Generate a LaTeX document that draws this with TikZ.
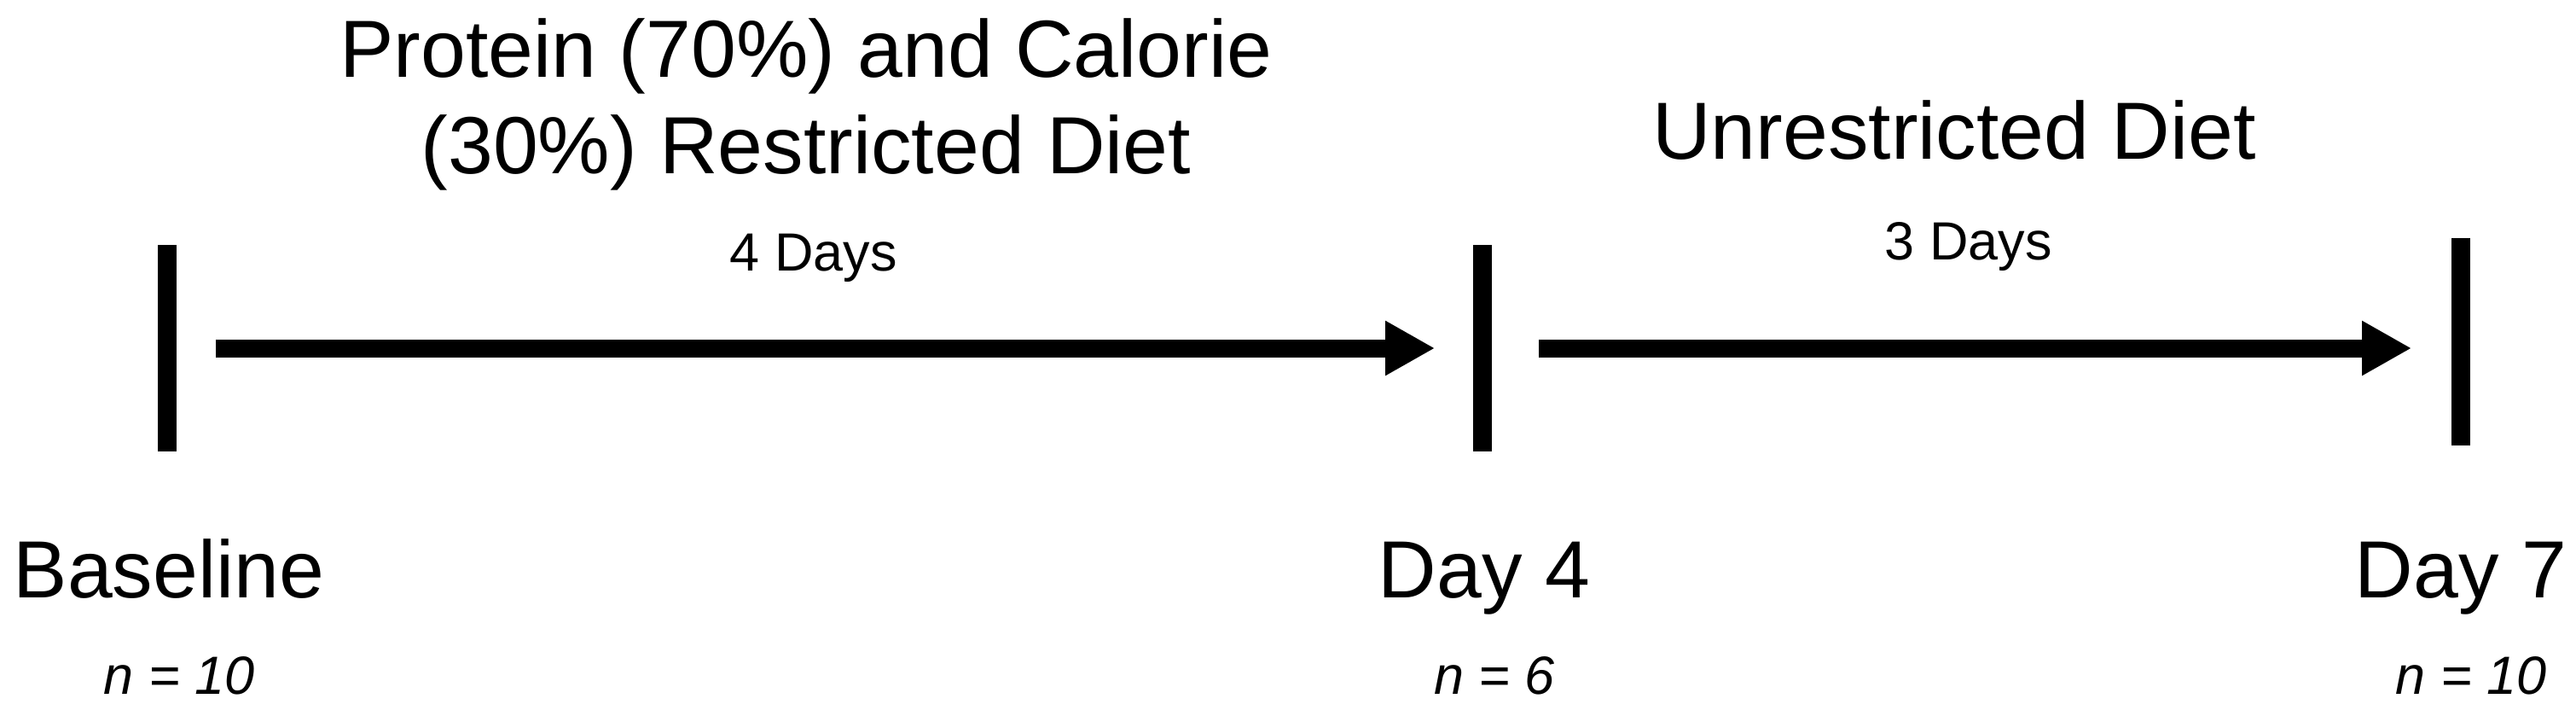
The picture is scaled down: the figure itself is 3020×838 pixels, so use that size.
\documentclass[tikz,border=0pt]{standalone}
\usepackage{fontspec}
\setmainfont{Liberation Sans}
\usetikzlibrary{arrows.meta}
\tikzset{
  bar/.style={fill=black, draw=none, inner sep=0pt, minimum width=5.5pt},
  bigtext/.style={anchor=base, inner sep=0pt, font=\fontsize{23.75}{28.25}\selectfont, align=center},
  smalltext/.style={anchor=base, inner sep=0pt, font=\fontsize{15.75}{19}\selectfont},
  ntext/.style={anchor=base, inner sep=0pt, font=\fontsize{15.75}{19}\selectfont\itshape},
  timearrow/.style={line width=5.25pt, -{Triangle[length=14.5pt,width=15pt]}}
}
\begin{document}
\begin{tikzpicture}[x=0.25pt,y=-0.25pt]
\useasboundingbox (0,0) rectangle (3020,838);
% bars
\node[bar, minimum height=60.5pt] (b0) at (196,408) {};
\node[bar, minimum height=60.5pt] (b1) at (1738,408) {};
\node[bar, minimum height=60.75pt] (b2) at (2885,400.5) {};
% arrows
\draw[timearrow, shorten <=11.25pt, shorten >=11pt] (b0.east) -- (b1.west);
\draw[timearrow, shorten <=13.5pt, shorten >=11.5pt] (b1.east) -- (b1.east -| b2.west);
% titles
\node[bigtext] (t1a) at (945,90) {Protein (70\%) and Calorie};
\node[bigtext] (t1b) at (945,203) {(30\%) Restricted Diet};
\node[bigtext] (t2) at (2291,186) {Unrestricted Diet};
\node[smalltext] (d1) at (954,317) {4 Days};
\node[smalltext] (d2) at (2308,304) {3 Days};
% time point labels
\node[bigtext] (l0) at (198,700) {Baseline};
\node[bigtext] (l1) at (1740,700) {Day 4};
\node[bigtext] (l2) at (2885,700) {Day 7};
\node[ntext] (n0) at (210,813) {n = 10};
\node[ntext] (n1) at (1752,813) {n = 6};
\node[ntext] (n2) at (2897,813) {n = 10};
\end{tikzpicture}
\end{document}
